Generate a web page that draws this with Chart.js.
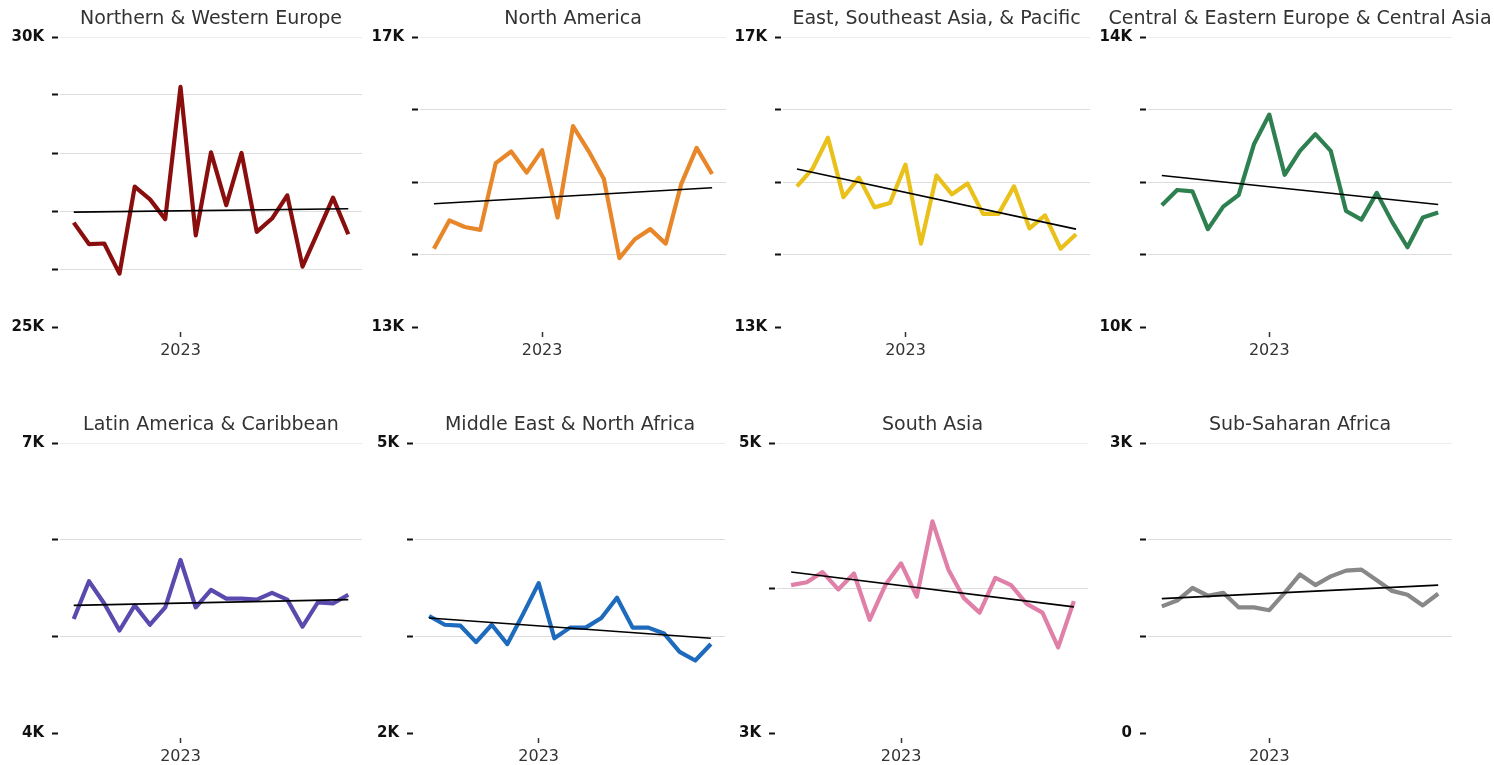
<!DOCTYPE html>
<html>
<head>
<meta charset="utf-8">
<script src="https://cdn.jsdelivr.net/npm/chart.js@4.4.1/dist/chart.umd.min.js"></script>
<style>
  html, body { margin: 0; padding: 0; background: #fff; overflow: hidden; width: 1494px; height: 765px; }
  canvas { position: absolute; }
</style>
</head>
<body>
<script>
// ---- DATA ----
const months = ['2022-06','2022-07','2022-08','2022-09','2022-10','2022-11','2022-12',
  '2023-01','2023-02','2023-03','2023-04','2023-05','2023-06','2023-07','2023-08','2023-09','2023-10','2023-11','2023-12'];
const regions = ['Northern & Western Europe','North America','East, Southeast Asia, & Pacific','Central & Eastern Europe & Central Asia',
  'Latin America & Caribbean','Middle East & North Africa','South Asia','Sub-Saharan Africa'];

const nwEurope     = [26800,26430,26440,25920,27420,27200,26860,29140,26580,28010,27100,28000,26640,26870,27270,26040,26630,27230,26600];
const northAmerica = [14080,14470,14380,14340,15260,15420,15130,15440,14510,15770,15430,15040,13950,14210,14350,14150,14970,15470,15110];
const eastAsia     = [14940,15180,15610,14790,15060,14650,14710,15240,14150,15090,14830,14980,14560,14560,14940,14360,14540,14080,14280];
const ceeAsia      = [11680,11890,11870,11350,11660,11820,12520,12930,12100,12430,12660,12430,11600,11480,11850,11450,11100,11510,11580];
const latam        = [5180,5570,5340,5060,5320,5120,5300,5790,5300,5480,5390,5390,5380,5450,5380,5100,5350,5340,5430];
const mena         = [3210,3120,3110,2940,3120,2920,3230,3550,2980,3090,3090,3190,3400,3090,3090,3030,2840,2750,2920];
const southAsia    = [4020,4040,4110,3990,4100,3780,4020,4170,3940,4460,4130,3930,3830,4070,4020,3890,3830,3590,3910];
const ssAfrica     = [1310,1370,1500,1420,1450,1300,1300,1270,1450,1640,1530,1620,1680,1690,1580,1470,1430,1320,1440];

// trend line start / end values (first and last month)
const trendStart = [26980,14700,15180,12090,5320,3190,4110,1390];
const trendEnd   = [27040,14920,14350,11690,5380,2980,3870,1530];

// y-axis ranges
const yMin = [25000,13000,13000,10000,4000,2000,3000,0];
const yMax = [30000,17000,17000,14000,7000,5000,5000,3000];

const series = [nwEurope, northAmerica, eastAsia, ceeAsia, latam, mena, southAsia, ssAfrica];
const colors = ['#8a0e0e','#e8872a','#e9c11a','#2e8050','#5a4aae','#1e6bbe','#e07fa7','#888888'];

// ---- LAYOUT ----
const plotLeft  = [60, 420, 783, 1148, 60, 415, 777, 1148];
const plotRight = [362, 726, 1090, 1452, 362, 725, 1088, 1452];
const rowTop = [0, 0, 0, 0, 406, 406, 406, 406];
const AXIS_W = 60, CANVAS_H = 380, X_AXIS_H = 40;

const FONT = "'DejaVu Sans', sans-serif";
const yearIdx = months.indexOf('2023-01');

function fmtK(v) { return v === 0 ? '0' : (v / 1000) + 'K'; }

regions.forEach((name, i) => {
  const c = document.createElement('canvas');
  const w = plotRight[i] - plotLeft[i] + 2 * AXIS_W;
  c.width = w; c.height = CANVAS_H;
  c.style.left = (plotLeft[i] - AXIS_W) + 'px';
  c.style.top = rowTop[i] + 'px';
  c.style.width = w + 'px'; c.style.height = CANVAS_H + 'px';
  document.body.appendChild(c);

  const pts = series[i].map((v, k) => ({ x: k, y: v }));
  const last = months.length - 1;

  new Chart(c, {
    type: 'line',
    data: {
      datasets: [
        { data: [{ x: 0, y: trendStart[i] }, { x: last, y: trendEnd[i] }],
          borderColor: '#000', borderWidth: 1.6, pointRadius: 0, order: 0 },
        { data: pts, borderColor: colors[i], borderWidth: 4.2, pointRadius: 0,
          tension: 0, borderJoinStyle: 'round', order: 1 }
      ]
    },
    options: {
      responsive: false, animation: false, devicePixelRatio: 1,
      layout: { padding: { left: 0, right: 0, top: 0, bottom: CANVAS_H - 327 - X_AXIS_H } },
      plugins: {
        legend: { display: false }, tooltip: { enabled: false },
        title: { display: true, text: name, color: '#333',
          font: { family: FONT, size: 19, weight: 'normal' },
          padding: { top: 8, bottom: 6.2 } }
      },
      scales: {
        x: {
          type: 'linear', min: -0.9, max: last + 0.9,
          afterBuildTicks: s => { s.ticks = [{ value: yearIdx }]; },
          afterFit: s => { s.height = X_AXIS_H; },
          border: { display: false },
          grid: { drawOnChartArea: false, drawTicks: true, tickLength: 10,
                  tickColor: '#333', tickWidth: 1.5, tickBorderDash: [0, 5, 5, 100] },
          ticks: { padding: 4, color: '#333', maxRotation: 0,
                   font: { family: FONT, size: 16 },
                   callback: v => months[v] ? months[v].slice(0, 4) : '' }
        },
        y: {
          min: yMin[i], max: yMax[i],
          afterBuildTicks: s => {
            const t = [];
            for (let v = yMin[i]; v <= yMax[i]; v += 1000) t.push({ value: v });
            s.ticks = t;
          },
          afterFit: s => { s.width = AXIS_W; },
          border: { display: false },
          grid: {
            color: ctx => ctx.index === 0 ? 'rgba(0,0,0,0)' : (ctx.tick && ctx.tick.value === yMax[i] ? '#ececec' : '#dddddd'),
            lineWidth: 1, drawTicks: true, tickLength: 8, tickColor: '#111', tickWidth: 2,
            tickBorderDash: [6, 20]
          },
          ticks: { padding: 8, color: '#111',
                   font: { family: FONT, size: 15, weight: 'bold' },
                   callback: v => (v === yMin[i] || v === yMax[i]) ? fmtK(v) : '' }
        },
        // empty spacer on the right so the title is centred over the plot
        yRight: {
          type: 'linear', position: 'right', display: true,
          min: yMin[i], max: yMax[i],
          afterFit: s => { s.width = AXIS_W; },
          border: { display: false },
          grid: { display: false, drawTicks: false },
          ticks: { display: false }
        }
      }
    }
  });
});
</script>
</body>
</html>
